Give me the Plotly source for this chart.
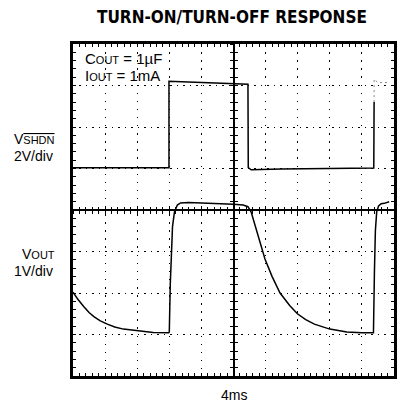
import plotly.graph_objects as go

# Oscilloscope screen: 10 horizontal divisions (4ms/div), 8 vertical divisions
# Values given in screen divisions (0 = bottom graticule line)
vshdn_t = [0.0, 2.99, 2.99, 3.6, 4.5, 5.3, 5.45, 5.46, 5.55, 6.5, 7.5, 8.5, 9.37, 9.38]
vshdn_div = [5.02, 5.02, 7.1, 7.08, 7.06, 7.04, 7.03, 5.02, 4.97, 4.99, 5.0, 5.01, 5.01, 6.6]
vshdn_tail_t = [9.38, 9.38, 9.5, 9.85]
vshdn_tail_div = [6.6, 7.15, 7.07, 7.07]

vout_t = [0.0, 0.15, 0.34, 0.5, 0.65, 0.85, 1.07, 1.3, 1.57, 2.09, 2.5, 2.98,
          3.0, 3.03, 3.06, 3.1, 3.16, 3.25, 3.35, 3.6, 4.0, 4.5, 5.0, 5.3, 5.45,
          5.55, 5.77, 5.98, 6.2, 6.45, 6.75, 6.99, 7.25, 7.52, 8.0, 8.53, 9.0, 9.36,
          9.39, 9.42, 9.46, 9.52, 9.6, 9.7, 9.85]
vout_div = [2.02, 1.85, 1.67, 1.53, 1.43, 1.33, 1.25, 1.18, 1.13, 1.08, 1.05, 1.04,
            1.06, 2.2, 3.0, 3.6, 3.95, 4.12, 4.17, 4.18, 4.17, 4.16, 4.14, 4.12, 4.08,
            3.95, 3.39, 2.82, 2.4, 2.0, 1.7, 1.5, 1.36, 1.25, 1.13, 1.06, 1.04, 1.04,
            2.5, 3.5, 3.95, 4.1, 4.15, 4.16, 4.2]

title_text = "TURN-ON/TURN-OFF RESPONSE"
time_label = "4ms"

FONT = "Liberation Sans Narrow, Arial Narrow, Liberation Sans, Arial, sans-serif"
TFONT = "DejaVu Sans Condensed, Liberation Sans Narrow, Liberation Sans, Arial, sans-serif"
SMALL = '<span style="font-size:11px">'

fig = go.Figure()
fig.add_trace(go.Scatter(x=vshdn_t, y=vshdn_div, mode="lines",
                         line=dict(color="black", width=1.5), showlegend=False))
fig.add_trace(go.Scatter(x=vshdn_tail_t, y=vshdn_tail_div, mode="lines",
                         line=dict(color="#888888", width=1, dash="2px,3px"), showlegend=False))
fig.add_trace(go.Scatter(x=vout_t, y=vout_div, mode="lines",
                         line=dict(color="black", width=1.5), showlegend=False))
# dummy traces to activate center-crosshair axes
fig.add_trace(go.Scatter(x=[], y=[], xaxis="x2", yaxis="y2", showlegend=False))
fig.add_trace(go.Scatter(x=[], y=[], xaxis="x3", yaxis="y3", showlegend=False))

frame = dict(showline=True, linewidth=3, linecolor="black", mirror="ticks",
             ticks="inside", ticklen=3, tickwidth=1, tickcolor="black",
             showticklabels=False, zeroline=False, showgrid=True,
             gridcolor="black", gridwidth=1, fixedrange=True)

center = dict(anchor="free", position=0.5, tickwidth=1, tickcolor="black",
              ticklen=3, dtick=0.2, tick0=0, showticklabels=False,
              showgrid=False, zeroline=False)

# page body has an 8px default margin, so the figure is sized 8px smaller
fig.update_layout(
    width=397, height=394,
    margin=dict(l=65, r=8, t=36, b=26),
    paper_bgcolor="white", plot_bgcolor="white",
    font=dict(family=FONT, size=14, color="black"),
    xaxis=dict(range=[0, 10], dtick=1, tick0=0, griddash="1.5px,6.6px",
               minor=dict(dtick=0.2, tick0=0, ticks="inside", ticklen=3,
                          tickwidth=1, tickcolor="black", showgrid=False),
               **frame),
    yaxis=dict(range=[0, 8], dtick=1, tick0=0, griddash="1.5px,4.98px",
               minor=dict(dtick=0.2, tick0=0, ticks="inside", ticklen=3,
                          tickwidth=1, tickcolor="black", showgrid=False),
               **frame),
    xaxis2=dict(overlaying="x", range=[0, 10], showline=True, linewidth=1.5,
                linecolor="black", ticks="outside", **center),
    xaxis3=dict(overlaying="x", range=[0, 10], showline=False, ticks="inside", **center),
    yaxis2=dict(overlaying="y", range=[0, 8], showline=True, linewidth=1.5,
                linecolor="black", ticks="outside", **center),
    yaxis3=dict(overlaying="y", range=[0, 8], showline=False, ticks="inside", **center),
)

ann = [
    dict(text="<b>" + title_text + "</b>", x=0.4954, y=1.0818, size=17, fam=TFONT),
    dict(text="C" + SMALL + "OUT</span> = 1µF", x=0.0309, y=0.957, xanchor="left", size=15),
    dict(text="I" + SMALL + "OUT</span> = 1mA", x=0.0309, y=0.905, xanchor="left", size=15),
    dict(text="V" + '<span style="font-size:11px;text-decoration:overline">SHDN</span>',
         x=-0.0494, y=0.7130, xanchor="right", size=14),
    dict(text="2V/div", x=-0.0556, y=0.6620, xanchor="right", size=14),
    dict(text="V" + SMALL + "OUT</span>", x=-0.0494, y=0.3670, xanchor="right", size=14),
    dict(text="1V/div", x=-0.0556, y=0.3148, xanchor="right", size=14),
    dict(text=time_label, x=0.5, y=-0.056, size=14),
]
for a in ann:
    fig.add_annotation(text=a["text"], xref="paper", yref="paper", x=a["x"], y=a["y"],
                       xanchor=a.get("xanchor", "center"), yanchor="middle",
                       showarrow=False,
                       font=dict(family=a.get("fam", FONT), size=a["size"], color="black"))

fig.write_html("out.html")
